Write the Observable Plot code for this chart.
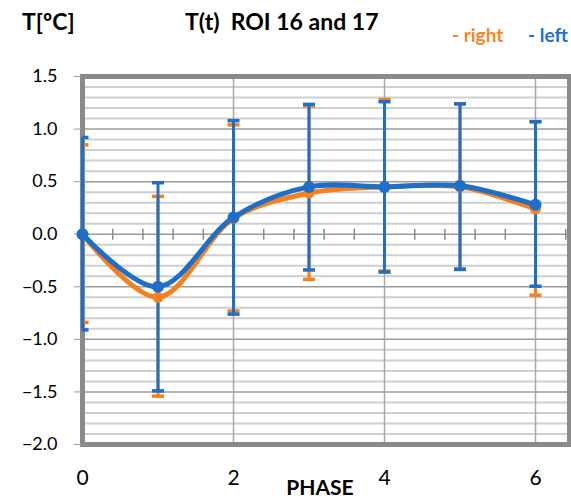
<!DOCTYPE html>
<html>
<head>
<meta charset="utf-8">
<script src="https://cdn.jsdelivr.net/npm/d3@7"></script>
<script src="https://cdn.jsdelivr.net/npm/@observablehq/plot@0.6"></script>
<style>
  html, body { margin: 0; padding: 0; background: #fff; }
  #head { position: relative; width: 571px; height: 56px; font-family: Lato, "Open Sans", sans-serif; font-weight: bold; color: #000; }
  #head span { position: absolute; white-space: pre; }
</style>
</head>
<body>
<div id="head">
  <span style="left:22px; top:7px; font-size:23px;">T[ºC]</span>
  <span style="left:185px; top:7px; font-size:23px;">T(t)  ROI 16 and 17</span>
  <span style="left:452px; top:23px; font-size:19px; color:#f7862b;">- right</span>
  <span style="left:528px; top:23px; font-size:19px; color:#1f6fd0;">- left</span>
</div>
<div id="chart"></div>
<script>
// ---- data ----
const phase = [0, 1, 2, 3, 4, 5, 6];

const rightMean = [0.00, -0.60, 0.15, 0.39, 0.45, 0.45, 0.24];
const rightLow  = [-0.84, -1.54, -0.73, -0.43, -0.35, -0.33, -0.58];
const rightHigh = [0.85, 0.36, 1.04, 1.22, 1.28, 1.24, 1.07];

const leftMean = [0.00, -0.50, 0.16, 0.45, 0.45, 0.46, 0.28];
const leftLow  = [-0.91, -1.49, -0.76, -0.34, -0.36, -0.335, -0.495];
const leftHigh = [0.92, 0.49, 1.08, 1.235, 1.26, 1.24, 1.07];

// ---- ticks ----
const yMajor = [-2.0, -1.5, -1.0, -0.5, 0.0, 0.5, 1.0, 1.5];
const yMinor = d3.range(-19, 15).map(i => i / 10).filter(v => Math.abs(Math.round(v * 2) - v * 2) > 1e-6);
const xLabels = [0, 2, 4, 6];
const xMinorTicks = d3.range(1, 17).map(i => Math.round(i * 0.4 * 10) / 10);

const ORANGE = "#f5801f";
const BLUE = "#1f6fc8";

const rows = (m, lo, hi) => phase.map((p, i) => ({phase: p, mean: m[i], low: lo[i], high: hi[i]}));
const right = rows(rightMean, rightLow, rightHigh);
const left = rows(leftMean, leftLow, leftHigh);

const hline = {draw(ctx, size) { const w = Math.sqrt(size / Math.PI); ctx.moveTo(-w, 0); ctx.lineTo(w, 0); }};
const vline = {draw(ctx, size) { const w = Math.sqrt(size / Math.PI); ctx.moveTo(0, -w); ctx.lineTo(0, w); }};

const errorMarks = (data, c, w) => [
  Plot.ruleX(data, {x: "phase", y1: "low", y2: "high", stroke: c, strokeWidth: w}),
  Plot.dot(data, {x: "phase", y: "low", symbol: hline, r: 6, fill: "none", stroke: c, strokeWidth: 3.5, clip: true}),
  Plot.dot(data, {x: "phase", y: "high", symbol: hline, r: 6, fill: "none", stroke: c, strokeWidth: 3.5, clip: true})
];

const chart = Plot.plot({
  width: 571,
  height: 446,
  marginTop: 20,
  marginBottom: 58,
  marginLeft: 82,
  marginRight: 2,
  style: {fontFamily: "Lato, 'Open Sans', sans-serif", background: "#fff", color: "#000"},
  x: {domain: [0, 6.45], label: null},
  y: {domain: [-2, 1.5], label: null},
  marks: [
    Plot.gridY(yMinor, {stroke: "#cfcfcf", strokeOpacity: 1, strokeWidth: 2}),
    Plot.gridY(yMajor, {stroke: "#9c9c9c", strokeOpacity: 1, strokeWidth: 1.5}),
    Plot.gridX([2, 4, 6], {stroke: "#a8a8a8", strokeOpacity: 1, strokeWidth: 1.5}),
    Plot.dot(xMinorTicks, {x: d => d, y: () => 0, symbol: vline, r: 5.5, fill: "none", stroke: "#8a8a8a", strokeWidth: 1.5}),
    Plot.frame({stroke: "#8a8a8a", strokeWidth: 5}),
    Plot.axisY(yMajor, {tickSize: 8, tickPadding: 17, tickFormat: d3.format(".1f"), fontSize: 18, stroke: "#9c9c9c", fill: "#000", label: null}),
    Plot.axisX(xLabels, {tickSize: 0, tickPadding: 26, fontSize: 21, fill: "#000", label: null}),
    Plot.text(["PHASE"], {frameAnchor: "bottom", dx: -6, dy: 36, lineAnchor: "top", fontSize: 21, fontWeight: "bold", fill: "#000"}),
    ...errorMarks(right, ORANGE, 3),
    ...errorMarks(left, BLUE, 3),
    Plot.line(right, {x: "phase", y: "mean", stroke: ORANGE, strokeWidth: 5, curve: "catmull-rom"}),
    Plot.line(left, {x: "phase", y: "mean", stroke: BLUE, strokeWidth: 5, curve: "catmull-rom"}),
    Plot.dot(right, {x: "phase", y: "mean", fill: ORANGE, r: 5.5}),
    Plot.dot(left, {x: "phase", y: "mean", fill: BLUE, r: 6})
  ]
});
document.getElementById("chart").append(chart);
</script>
</body>
</html>
